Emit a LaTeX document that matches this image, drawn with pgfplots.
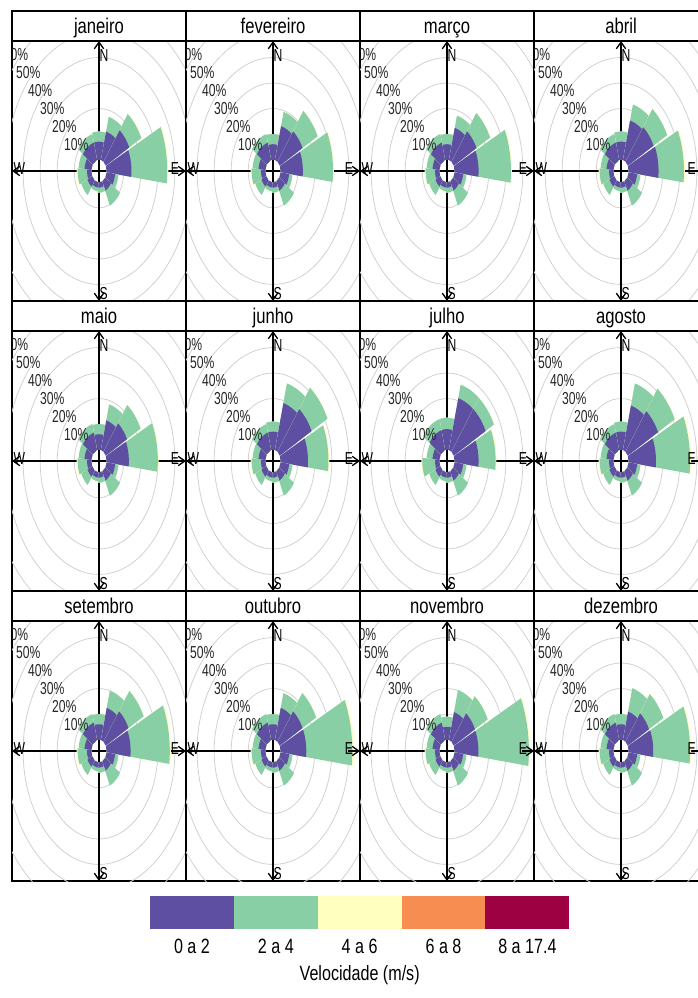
\documentclass[border=0pt]{standalone}
\usepackage{pgfplots}
\pgfplotsset{compat=1.18}
\usepackage{pgfplotstable}
\usepgfplotslibrary{polar}
\usetikzlibrary{arrows.meta}
\usepackage{fontspec}
\setmainfont{Liberation Sans}[FakeStretch=0.78]
\newfontfamily\narrow{Liberation Sans}[FakeStretch=0.7]
\definecolor{c1}{HTML}{5E4FA2}
\definecolor{c2}{HTML}{89CFA5}
\definecolor{c3}{HTML}{FFFFBF}
\definecolor{c4}{HTML}{F88D52}
\definecolor{c5}{HTML}{9E0142}
\def\off{4.5}

% a1 a2 = sector limits (degrees from north, clockwise); r1,r2,r3 = cumulative frequency (%) up to 2, 4, 6 m/s
\pgfplotstableread{
a1 a2 r1 r2 r3
-15 15 7 11 11
15 37 11.5 17.5 17.5
37 62.5 15.5 23.5 23.7
64.5 97 14.5 35.5 36.2
97 125 5 7 7
125 155 4 10.5 10.5
155 185 2 4 4
185 215 2 3.5 3.5
215 245 3 7 7
245 275 2.5 8 8.6
275 305 4 7.5 7.5
305 345 7 10.5 10.5
}\tjan
\pgfplotstableread{
a1 a2 r1 r2 r3
-15 15 6 10 10
15 37 13.7 19.5 19.5
37 62.5 15 25 25.2
64.5 97 13 30.7 31.2
97 125 5 7 7
125 155 4 10.5 10.5
155 185 2 4 4
185 215 2 3.5 3.5
215 245 3 7 7
245 275 2.5 8 8.6
275 305 4 7.5 7.5
305 345 7 10.5 10.5
}\tfev
\pgfplotstableread{
a1 a2 r1 r2 r3
-15 15 6 10 10
15 37 13 18 18
37 62.5 15 24 24.2
64.5 97 14 33 33.6
97 125 5 7 7
125 155 4 10.5 10.5
155 185 2 4 4
185 215 2 3.5 3.5
215 245 3 7 7
245 275 2.5 8 8.6
275 305 4 7.5 7.5
305 345 7 10.5 10.5
}\tmar
\pgfplotstableread{
a1 a2 r1 r2 r3
-15 15 7 11 11
15 37 16 22.5 22.5
37 62.5 17 26 26.2
64.5 97 17.5 32.4 33
97 125 5 7 7
125 155 4 10.5 10.5
155 185 2 4 4
185 215 2 3.5 3.5
215 245 3 7 7
245 275 2.5 8 8.6
275 305 4 7.5 7.5
305 345 7 10.5 10.5
}\tabr
\pgfplotstableread{
a1 a2 r1 r2 r3
-15 15 6 10 10
15 37 12 18.5 18.5
37 62.5 14 23 23.2
64.5 97 13 30 30.5
97 125 5 7 7
125 155 4 10.5 10.5
155 185 2 4 4
185 215 2 3.5 3.5
215 245 3 7 7
245 275 2.5 8 8.6
275 305 4 7.5 7.5
305 345 7 10.5 10.5
}\tmai
\pgfplotstableread{
a1 a2 r1 r2 r3
-15 15 7 11 11
15 37 19 27 27
37 62.5 21 31.5 31.7
64.5 97 16 28 28.5
97 125 5 7 7
125 155 4 10.5 10.5
155 185 2 4 4
185 215 2 3.5 3.5
215 245 3 7 7
245 275 2.5 8 8.6
275 305 4 7.5 7.5
305 345 7 10.5 10.5
}\tjun
\pgfplotstableread{
a1 a2 r1 r2 r3
-15 15 8 12.5 12.5
15 37 21 26.5 26.5
37 62.5 21 26.5 26.7
64.5 97 14 24 24.5
97 125 5 7 7
125 155 4 10.5 10.5
155 185 2 4 4
185 215 2 3.5 3.5
215 245 3 7 7
245 275 2.5 10 10.6
275 305 4 7.5 7.5
305 345 8 12.5 12.5
}\tjul
\pgfplotstableread{
a1 a2 r1 r2 r3
-15 15 7 11 11
15 37 18 27 27
37 62.5 20 31 31.2
64.5 97 16 36 36.6
97 125 5 7 7
125 155 4 10.5 10.5
155 185 2 4 4
185 215 2 3.5 3.5
215 245 3 7 7
245 275 2.5 8 8.6
275 305 4 7.5 7.5
305 345 7 10.5 10.5
}\tago
\pgfplotstableread{
a1 a2 r1 r2 r3
-15 15 6 10 10
15 37 13 20 20
37 62.5 15 25 25.2
64.5 97 14 37 37.6
97 125 5 7 7
125 155 4 10.5 10.5
155 185 2 4 4
185 215 2 3.5 3.5
215 245 3 7 7
245 275 2.5 8 8.6
275 305 4 7.5 7.5
305 345 7 10.5 10.5
}\tset
\pgfplotstableread{
a1 a2 r1 r2 r3
-15 15 6 10 10
15 37 13 19 19
37 62.5 15 24 24.2
64.5 97 15 42 42.8
97 125 5 7 7
125 155 4 10.5 10.5
155 185 2 4 4
185 215 2 3.5 3.5
215 245 3 7 7
245 275 2.5 8 8.6
275 305 4 7.5 7.5
305 345 7 10.5 10.5
}\tout
\pgfplotstableread{
a1 a2 r1 r2 r3
-15 15 5 9 9
15 37 11.3 20.3 20.3
37 62.5 14 22.4 22.6
64.5 97 13.9 43.5 44.2
97 125 5 7 7
125 155 4 10.5 10.5
155 185 2 4 4
185 215 2 3.5 3.5
215 245 3 7 7
245 275 2.5 8 8.6
275 305 4 7.5 7.5
305 345 7 10.5 10.5
}\tnov
\pgfplotstableread{
a1 a2 r1 r2 r3
-15 15 6 10 10
15 37 11.5 21 21
37 62.5 14 23.5 23.7
64.5 97 14.4 36 36.6
97 125 5 7 7
125 155 4 10.5 10.5
155 185 2 4 4
185 215 2 3.5 3.5
215 245 3 7 7
245 275 2.5 8 8.6
275 305 4 7.5 7.5
305 345 7 10.5 10.5
}\tdez

% one wedge: #1,#2 compass limits, #3 value (%), #4 colour
\newcommand\wedgeplot[4]{%
  \pgfmathsetmacro\Ro{#3+\off}%
  \pgfmathsetmacro\Aone{90-#1}%
  \pgfmathsetmacro\Atwo{90-#2}%
  \pgfmathsetmacro\Astep{(\Atwo-\Aone)/12}%
  \gdef\clist{}%
  \foreach \k in {0,...,12}{\pgfmathsetmacro\ang{\Aone+\k*\Astep}\xdef\clist{\clist(\ang,\Ro)}}%
  \edef\tmp{\noexpand\addplot[fill=#4,draw=none,data cs=polar,forget plot] coordinates {\clist (\Atwo,\off) (\Aone,\off)};}%
  \tmp
}
\newcommand\drawrose[1]{%
  \pgfplotstablegetrowsof{#1}%
  \pgfmathtruncatemacro\nrows{\pgfplotsretval-1}%
  \edef\looptmp{\noexpand\pgfplotsforeachungrouped\noexpand\ii in {0,...,\nrows}}%
  \looptmp{%
    \pgfplotstablegetelem{\ii}{a1}\of{#1}\let\Wa\pgfplotsretval
    \pgfplotstablegetelem{\ii}{a2}\of{#1}\let\Wb\pgfplotsretval
    \pgfplotstablegetelem{\ii}{r1}\of{#1}\let\Wc\pgfplotsretval
    \pgfplotstablegetelem{\ii}{r2}\of{#1}\let\Wd\pgfplotsretval
    \pgfplotstablegetelem{\ii}{r3}\of{#1}\let\We\pgfplotsretval
    \wedgeplot{\Wa}{\Wb}{\We}{c3}%
    \wedgeplot{\Wa}{\Wb}{\Wd}{c2}%
    \wedgeplot{\Wa}{\Wb}{\Wc}{c1}%
  }%
}

\pgfplotsset{rose/.style={scale only axis, width=130.5pt, height=195pt,
  xmin=-51, xmax=51, ymin=-51, ymax=51, xtick=\empty, ytick=\empty,
  axis line style={line width=1.1pt}, anchor=north west}}

% #1 x, #2 y, #3 month, #4 table, #5 shift of the E letter
\newcommand\panel[5]{%
\begin{axis}[rose, at={(#1,#2)}]
  \pgfplotsinvokeforeach{14.5,24.5,34.5,44.5,54.5,64.5,74.5,84.5}{\draw[black!18, line width=0.6pt] (axis cs:0,0) ellipse [x radius=##1, y radius=##1];}
  \draw[line width=1pt] (axis cs:-51,0) -- (axis cs:51,0);
  \draw[line width=1pt] (axis cs:0,-51) -- (axis cs:0,51);
  \drawrose{#4}
  \draw[line width=1pt,-{Straight Barb[length=5pt,width=7pt]}] (axis cs:0,44) -- (axis cs:0,51);
  \draw[line width=1pt,-{Straight Barb[length=5pt,width=7pt]}] (axis cs:0,-44) -- (axis cs:0,-51);
  \draw[line width=1pt,-{Straight Barb[length=5pt,width=7pt]}] (axis cs:44,0) -- (axis cs:51,0);
  \draw[line width=1pt,-{Straight Barb[length=5pt,width=7pt]}] (axis cs:-44,0) -- (axis cs:-51,0);
  \node[anchor=north west,inner sep=0pt,xshift=0.3pt,yshift=-6pt] at (axis cs:0,51) {\narrow\fontsize{13}{13}\selectfont N};
  \node[anchor=south west,inner sep=0pt,xshift=0.3pt,yshift=1pt] at (axis cs:0,-51) {\narrow\fontsize{13}{13}\selectfont S};
  \node[anchor=east,inner sep=0pt,xshift=#5,yshift=2pt] at (axis cs:51,0) {\narrow\fontsize{13}{13}\selectfont E};
  \node[anchor=west,inner sep=0pt,xshift=1pt,yshift=2pt] at (axis cs:-51,0) {\narrow\fontsize{13}{13}\selectfont W};
  \node[text=black!85] at (axis cs:-13.3,10.3) {\narrow\fontsize{13}{13}\selectfont 10\%};
  \node[text=black!85] at (axis cs:-20.3,17.3) {\narrow\fontsize{13}{13}\selectfont 20\%};
  \node[text=black!85] at (axis cs:-27.4,24.4) {\narrow\fontsize{13}{13}\selectfont 30\%};
  \node[text=black!85] at (axis cs:-34.5,31.5) {\narrow\fontsize{13}{13}\selectfont 40\%};
  \node[text=black!85] at (axis cs:-41.5,38.5) {\narrow\fontsize{13}{13}\selectfont 50\%};
  \node[text=black!85] at (axis cs:-48.6,45.6) {\narrow\fontsize{13}{13}\selectfont 60\%};
\end{axis}
\draw[line width=1.1pt] ([yshift=22.5pt]current axis.north west) rectangle (current axis.north east);
\node[anchor=base] at ([yshift=5.5pt]current axis.north) {\fontsize{16}{16}\selectfont #3};
}

\begin{document}
\begin{tikzpicture}
\useasboundingbox (0,0) rectangle (522.75pt,-748.5pt);
\panel{9pt}{-30.75pt}{janeiro}{\tjan}{-5pt}
\panel{139.5pt}{-30.75pt}{fevereiro}{\tfev}{-5pt}
\panel{270pt}{-30.75pt}{março}{\tmar}{-5pt}
\panel{400.5pt}{-30.75pt}{abril}{\tabr}{-9pt}
\panel{9pt}{-248.25pt}{maio}{\tmai}{-5pt}
\panel{139.5pt}{-248.25pt}{junho}{\tjun}{-5pt}
\panel{270pt}{-248.25pt}{julho}{\tjul}{-5pt}
\panel{400.5pt}{-248.25pt}{agosto}{\tago}{-9pt}
\panel{9pt}{-465.75pt}{setembro}{\tset}{-5pt}
\panel{139.5pt}{-465.75pt}{outubro}{\tout}{-5pt}
\panel{270pt}{-465.75pt}{novembro}{\tnov}{-5pt}
\panel{400.5pt}{-465.75pt}{dezembro}{\tdez}{-9pt}
% legend
\fill[c1] (112.5pt,-672pt) rectangle (175.4pt,-697pt);
\fill[c2] (175.4pt,-672pt) rectangle (238.3pt,-697pt);
\fill[c3] (238.3pt,-672pt) rectangle (301.2pt,-697pt);
\fill[c4] (301.2pt,-672pt) rectangle (364.1pt,-697pt);
\fill[c5] (364.1pt,-672pt) rectangle (427pt,-697pt);
\node at (143.95pt,-710pt) {\fontsize{15.5}{15.5}\selectfont 0 a 2};
\node at (206.85pt,-710pt) {\fontsize{15.5}{15.5}\selectfont 2 a 4};
\node at (269.75pt,-710pt) {\fontsize{15.5}{15.5}\selectfont 4 a 6};
\node at (332.65pt,-710pt) {\fontsize{15.5}{15.5}\selectfont 6 a 8};
\node at (395.55pt,-710pt) {\fontsize{15.5}{15.5}\selectfont 8 a 17.4};
\node at (269.75pt,-731pt) {\fontsize{15.5}{15.5}\selectfont Velocidade (m/s)};
\end{tikzpicture}
\end{document}
